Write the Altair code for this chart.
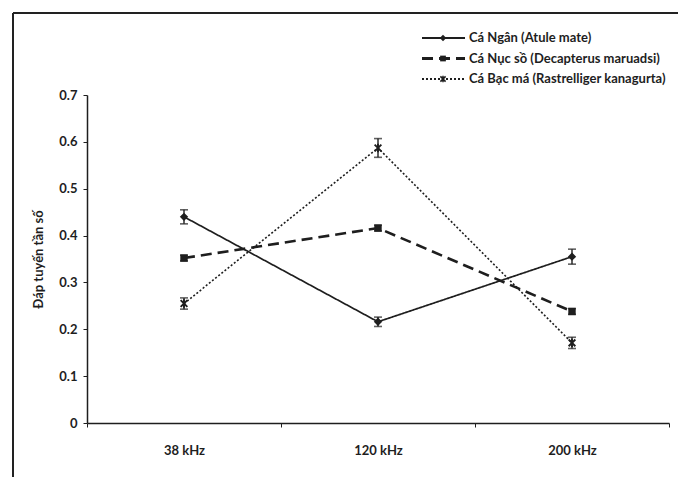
import altair as alt
import pandas as pd

freqs = ["38 kHz", "120 kHz", "200 kHz"]
series_names = [
    "Cá Ngân (Atule mate)",
    "Cá Nục sồ (Decapterus maruadsi)",
    "Cá Bạc má (Rastrelliger kanagurta)",
]
ngan = [0.44, 0.216, 0.355]
ngan_err = [0.015, 0.01, 0.016]
nuc = [0.352, 0.416, 0.238]
nuc_err = [0.006, 0.006, 0.006]
bacma = [0.255, 0.587, 0.171]
bacma_err = [0.012, 0.02, 0.012]
y_ticks = [0, 0.1, 0.2, 0.3, 0.4, 0.5, 0.6, 0.7]

values = [ngan, nuc, bacma]
errors = [ngan_err, nuc_err, bacma_err]

INK = "#1e1e1e"
FONT = "Lato"
STAR = "M-1,-1L1,1M1,-1L-1,1M0,-1.25L0,1.25"
styles = [
    dict(dash=[1, 0], width=1.7, shape="diamond", filled=True, size=70),
    dict(dash=[11, 6], width=2.6, shape="square", filled=True, size=55),
    dict(dash=[2, 2], width=1.6, shape=STAR, filled=False, size=45),
]

W, H = 582, 328
FS = 13

x_enc = alt.X(
    "freq:N",
    sort=freqs,
    scale=alt.Scale(domain=freqs, paddingInner=0, paddingOuter=0),
    axis=alt.Axis(
        title=None, labelAngle=0, tickBand="extent", tickSize=4,
        labelPadding=17, labelFontSize=FS, grid=False,
    ),
)
y_enc = alt.Y(
    "val:Q",
    scale=alt.Scale(domain=[0, 0.7], nice=False),
    axis=alt.Axis(
        title="Đáp tuyến tần số", values=y_ticks, grid=False, tickSize=4,
        labelExpr="datum.value == 0 ? '0' : format(datum.value, '.1f')",
        labelPadding=6, titlePadding=13, titleFontSize=FS, labelFontSize=FS,
    ),
)

layers = []
for i, name in enumerate(series_names):
    st = styles[i]
    df = pd.DataFrame({
        "freq": freqs,
        "val": values[i],
        "lo": [v - e for v, e in zip(values[i], errors[i])],
        "hi": [v + e for v, e in zip(values[i], errors[i])],
    })
    base = alt.Chart(df)
    layers.append(base.mark_line(color=INK, strokeWidth=st["width"], strokeDash=st["dash"]).encode(x=x_enc, y=y_enc))
    layers.append(base.mark_rule(color=INK, strokeWidth=1.4).encode(x=alt.X("freq:N", sort=freqs), y="lo:Q", y2="hi:Q"))
    layers.append(base.mark_tick(color=INK, thickness=1.6, size=8).encode(x=alt.X("freq:N", sort=freqs), y="lo:Q"))
    layers.append(base.mark_tick(color=INK, thickness=1.6, size=8).encode(x=alt.X("freq:N", sort=freqs), y="hi:Q"))
    layers.append(base.mark_point(shape=st["shape"], filled=st["filled"], size=st["size"], color=INK,
                                  strokeWidth=1.9, opacity=1).encode(x=alt.X("freq:N", sort=freqs), y="val:Q"))

    # manual legend entry
    one = alt.Chart(pd.DataFrame({"k": [0]}))
    ly = -57 + i * 20.5
    layers.append(one.mark_rule(color=INK, strokeWidth=st["width"] + 0.3, strokeDash=st["dash"]).encode(
        x=alt.value(335), x2=alt.value(378), y=alt.value(ly)))
    layers.append(one.mark_point(shape=st["shape"], filled=st["filled"], size=st["size"] * 0.6, color=INK,
                                 strokeWidth=1.5, opacity=1).encode(x=alt.value(356), y=alt.value(ly)))
    layers.append(one.mark_text(text=name, align="left", baseline="middle", font=FONT, fontSize=FS,
                                fontWeight="bold", color=INK).encode(x=alt.value(382), y=alt.value(ly)))

# chart frame (top and left border of the chart area)
frame = alt.Chart(pd.DataFrame({"k": [0]}))
layers.append(frame.mark_rule(color="#222", strokeWidth=2).encode(
    x=alt.value(-74), x2=alt.value(700), y=alt.value(-82)))
layers.append(frame.mark_rule(color="#222", strokeWidth=2).encode(
    x=alt.value(-74), y=alt.value(-82), y2=alt.value(400)))

chart = alt.layer(*layers).properties(
    width=W, height=H,
    autosize=alt.AutoSizeParams(type="none"),
    padding={"left": 79, "top": 87, "right": 9, "bottom": 54},
    background="white",
).configure_view(stroke=None).configure_axis(
    domainColor=INK, tickColor=INK, labelColor=INK, titleColor=INK,
    labelFont=FONT, titleFont=FONT, labelFontWeight="bold", titleFontWeight="bold",
    domainWidth=1.5,
)

chart.save("out.html", embed_options={"renderer": "svg", "actions": False})
